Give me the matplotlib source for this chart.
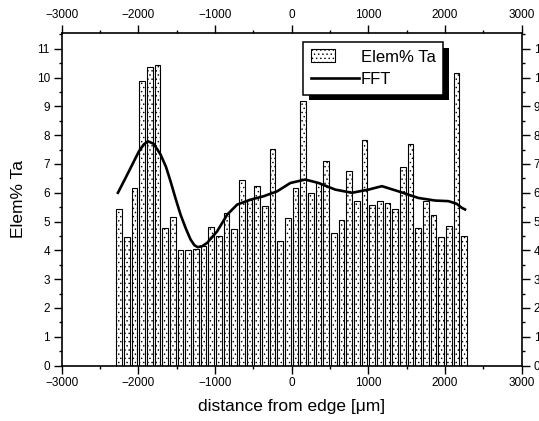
import numpy as np
import matplotlib
matplotlib.use("Agg")
import matplotlib.pyplot as plt
from matplotlib import patheffects
from matplotlib.ticker import MultipleLocator
from matplotlib.legend_handler import HandlerPatch
from matplotlib.patches import Rectangle

plt.rcParams['font.family'] = ['Liberation Sans', 'DejaVu Sans']
plt.rcParams['hatch.linewidth'] = 0.5

# Bar data: Elem% Ta at distance from edge (um)
bar_x = np.arange(-2250, 2251, 100)
bar_vals = [5.45, 4.47, 6.17, 9.90, 10.37, 10.45, 4.76, 5.16, 4.00, 4.00,
            4.05, 4.14, 4.80, 4.49, 5.31, 4.74, 6.46, 5.75, 6.24, 5.53,
            7.51, 4.33, 5.12, 6.17, 9.19, 6.00, 6.35, 7.09, 4.61, 5.06,
            6.75, 5.73, 7.82, 5.58, 5.70, 5.65, 5.42, 6.91, 7.69, 4.78,
            5.70, 5.24, 4.47, 4.86, 10.15, 4.49]

# FFT smoothed curve
fft_x = [-2267, -2180, -2102, -1993, -1930, -1876, -1800, -1711, -1640, -1581,
         -1515, -1450, -1380, -1320, -1270, -1225, -1165, -1103, -973, -842,
         -712, -539, -366, -191, -18, 177, 350, 568, 785, 1001, 1176, 1392,
         1652, 1870, 2043, 2150, 2217, 2260]
fft_y = [6.00, 6.45, 6.86, 7.44, 7.68, 7.79, 7.70, 7.33, 6.90, 6.40,
         5.80, 5.24, 4.75, 4.38, 4.18, 4.11, 4.15, 4.26, 4.66, 5.24,
         5.59, 5.76, 5.88, 6.05, 6.34, 6.46, 6.34, 6.11, 6.00, 6.11, 6.23, 6.05,
         5.82, 5.73, 5.71, 5.62, 5.48, 5.42]

fig = plt.figure(figsize=(5.39, 4.21), dpi=100)
ax = fig.add_axes([0.1145, 0.1318, 0.8535, 0.7898])

bars = ax.bar(bar_x, bar_vals, width=72, color='white', edgecolor='black',
              linewidth=0.8, hatch='....', label='Elem% Ta', zorder=2)
line, = ax.plot(fft_x, fft_y, color='black', linewidth=1.9, label='FFT', zorder=3)

ax.set_xlim(-3000, 3000)
ax.set_ylim(0, 11.55)

ax.xaxis.set_major_locator(MultipleLocator(1000))
ax.xaxis.set_minor_locator(MultipleLocator(500))
ax.yaxis.set_major_locator(MultipleLocator(1))
ax.yaxis.set_minor_locator(MultipleLocator(0.5))

ax.tick_params(which='both', direction='out', top=True, right=True,
               labeltop=True, labelright=True, labelsize=8.5, width=1.0)
ax.tick_params(which='major', length=5.5, pad=3)
ax.tick_params(which='minor', length=2.5)

for s in ax.spines.values():
    s.set_linewidth(1.2)

ax.set_xlabel('distance from edge [\u03bcm]', fontsize=12.5)
ax.set_ylabel('Elem% Ta', fontsize=12.5)
ax.xaxis.set_label_coords(0.5, -0.102)
ax.yaxis.set_label_coords(-0.077, 0.5)


def small_patch(legend, orig_handle, xdescent, ydescent, width, height, fontsize):
    w = width * 0.5
    return Rectangle((-xdescent, -ydescent), w, height)


def copy_first(legend_handle, orig_handle):
    legend_handle.update_from(orig_handle.patches[0])


leg = ax.legend([bars, line], ['Elem% Ta', 'FFT'],
                handler_map={bars: HandlerPatch(patch_func=small_patch,
                                                update_func=copy_first)},
                loc='upper left', bbox_to_anchor=(0.525, 0.973),
                fontsize=12, frameon=True, fancybox=False, framealpha=1,
                edgecolor='black', handlelength=2.9, handleheight=0.8,
                borderpad=0.45, labelspacing=0.45, handletextpad=0.1,
                borderaxespad=0)
frame = leg.get_frame()
frame.set_linewidth(1.1)
frame.set_path_effects([patheffects.SimplePatchShadow(offset=(4, -4),
                                                      shadow_rgbFace='black',
                                                      alpha=1.0),
                        patheffects.Normal()])

fig.savefig('out.png', dpi=100)
